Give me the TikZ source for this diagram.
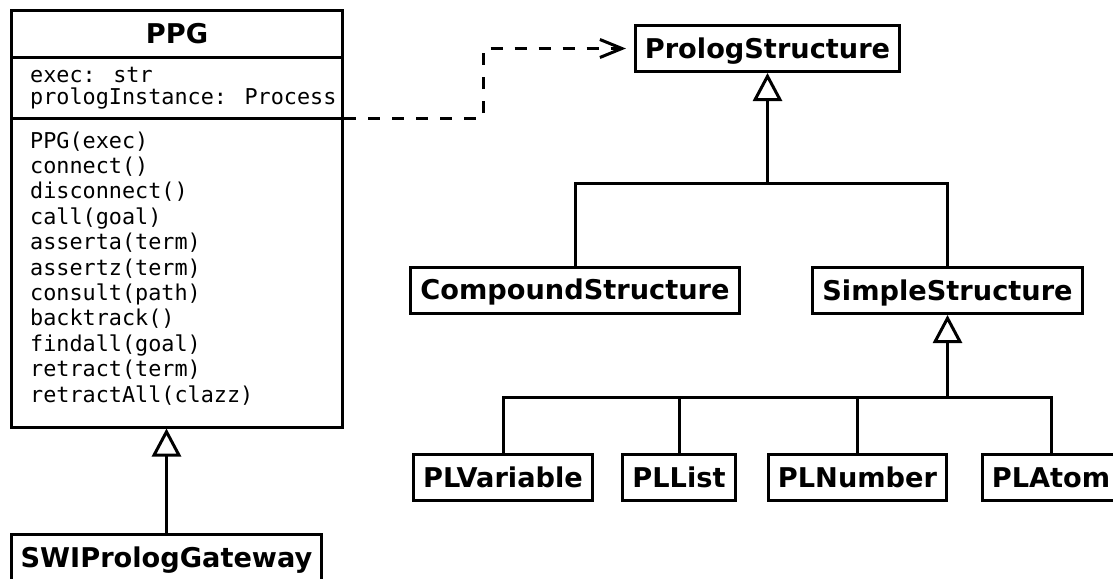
\documentclass[tikz,border=0pt]{standalone}
\usepackage{fontspec}
\setmainfont{DejaVu Sans}
\newfontfamily\codefont{DejaVu Sans Mono}
\usetikzlibrary{arrows.meta}
\begin{document}
\begin{tikzpicture}[x=1pt,y=-1pt,
  lw/.style={line width=3pt},
  classbox/.style={draw, line width=3pt, fill=white,
    font=\bfseries\fontsize{27.2}{32}\selectfont,
    text height=19.8pt, text depth=0pt,
    inner xsep=9.5pt, inner ysep=0pt, minimum height=46pt},
  classtitle/.style={font=\bfseries\fontsize{27.2}{32}\selectfont,
    text height=19.8pt, text depth=0pt, inner sep=0pt},
  member/.style={font=\codefont\fontsize{21.8}{24.4}\selectfont,
    anchor=base west, inner sep=0pt},
  inherit/.style={line width=3pt, -{Triangle[open, length=28pt, width=29pt]}},
  depend/.style={line width=3pt, dash pattern=on 12pt off 12pt,
    -{Straight Barb[length=22pt, width=18pt]}, shorten >=8pt},
]
\useasboundingbox (0,0) rectangle (1113,578);

% PPG class with its three compartments
\node (ppg) [draw, lw, minimum width=331pt, minimum height=416pt, inner sep=0pt] at (177,219) {};
\coordinate (sepA) at (0,58);
\coordinate (sepB) at (0,118);
\draw[lw] (ppg.west |- sepA) -- (ppg.east |- sepA);
\draw[lw] (ppg.west |- sepB) -- (ppg.east |- sepB);
\node (ppgtitle) [classtitle] at (177,33.5) {PPG};
\node (attr1) [member] at (30,82) {exec: str};
\node (attr2) [member] at (30,104) {prologInstance: Process};
\foreach \t [count=\i] in {{PPG(exec)},{connect()},{disconnect()},{call(goal)},
    {asserta(term)},{assertz(term)},{consult(path)},{backtrack()},
    {findall(goal)},{retract(term)},{retractAll(clazz)}}
  \node (op\i) [member] at (30,{148+25.4*(\i-1)}) {\t};

% subclass of PPG
\node (swi) [classbox] at (166.5,557.5) {SWIPrologGateway};
\draw[inherit] (swi.north) -- (swi.north |- ppg.south);

% Prolog structure hierarchy
\node (prolog) [classbox] at (767.5,48.5) {PrologStructure};
\node (compound) [classbox] at (575,290) {CompoundStructure};
\node (simple) [classbox] at (947.5,290.5) {SimpleStructure};
\node (plvar) [classbox] at (503,477.5) {PLVariable};
\node (pllist) [classbox] at (679,477.5) {PLList};
\node (plnum) [classbox] at (857.5,477.5) {PLNumber};
\node (platom) [classbox] at (1051,477.5) {PLAtom};

\coordinate (barA) at (0,183);
\coordinate (joinA) at (prolog.south |- barA);
\draw[lw] (compound.north) |- (joinA) -| (simple.north);
\draw[inherit] (joinA) -- (prolog.south);

\coordinate (barB) at (0,397);
\coordinate (joinB) at (simple.south |- barB);
\draw[lw] (plvar.north) |- (platom.north |- barB) -- (platom.north);
\draw[lw] (pllist.north) -- (pllist.north |- barB);
\draw[lw] (plnum.north) -- (plnum.north |- barB);
\draw[inherit] (joinB) -- (simple.south);

% dependency of PPG on PrologStructure
\coordinate (bendA) at (483,118);
\coordinate (bendB) at (483,48.5);
\draw[depend] (ppg.east |- bendA) -- (bendA) -- (bendB) -- (prolog.west);
\end{tikzpicture}
\end{document}
